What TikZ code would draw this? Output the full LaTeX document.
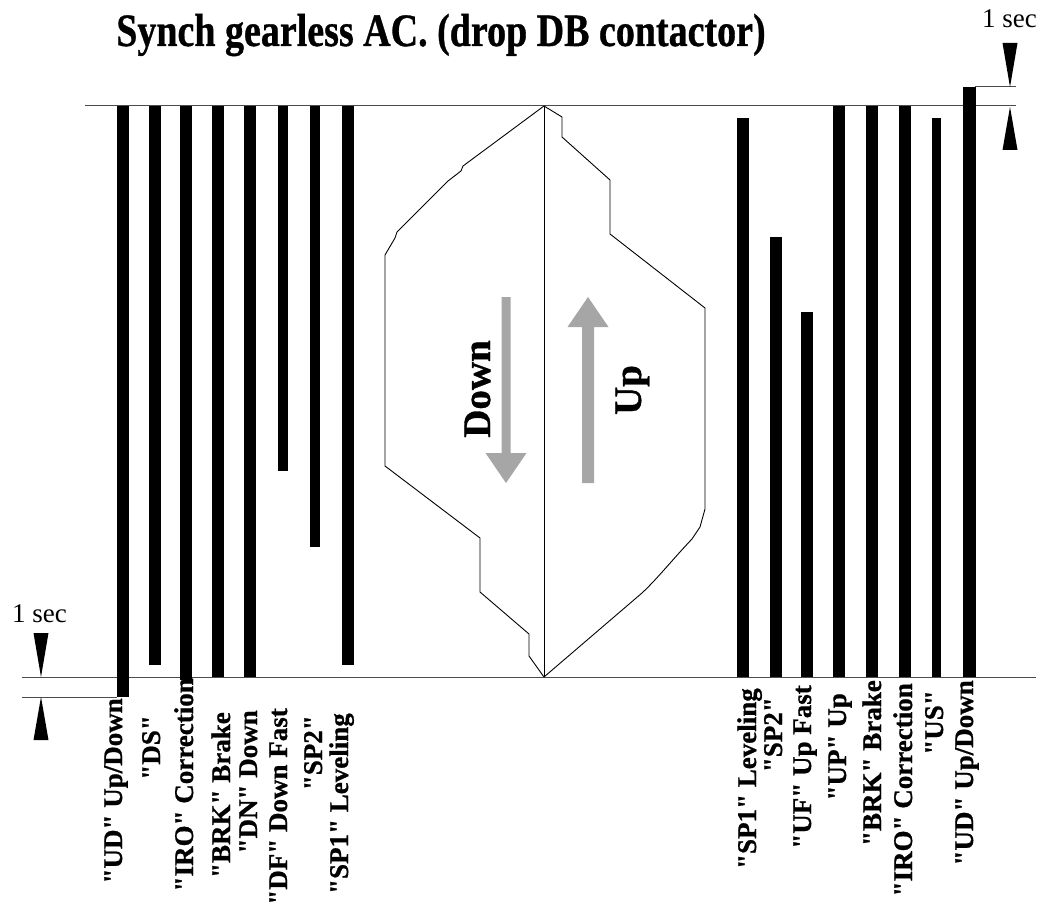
\documentclass[tikz,border=0pt]{standalone}
\usepackage{graphicx}
\usepackage{fontspec}
\setmainfont{Liberation Serif}[Ligatures=TeXOff,BoldFeatures={FakeBold=0.8}]
\begin{document}
\begin{tikzpicture}[x=1pt,y=-1pt,
  lbl/.style={rotate=90,anchor=base east,inner sep=0pt,font=\fontsize{27}{30}\selectfont\bfseries},
  hline/.style={line width=1pt,draw=black!70},
  prof/.style={line width=0.9pt,draw=black,line join=miter},
  bar/.style={fill=black},
  garrow/.style={fill=black!35},
  tri/.style={fill=black},
  sec/.style={inner sep=0pt,font=\fontsize{27}{30}\selectfont}]
\useasboundingbox (0,0) rectangle (1038,904);

% title
\node[inner sep=0pt,anchor=base,font=\fontsize{38}{42}\selectfont\bfseries] (title) at (441,46) {\scalebox{1}[1.22]{Synch gearless AC. (drop DB contactor)}};

% main horizontal lines
\coordinate (tl) at (85,106);
\coordinate (tr) at (1016,106);
\coordinate (bl) at (22,677);
\coordinate (br) at (1036,677);
\draw[hline] (tl) -- (tr);
\draw[hline] (bl) -- (br);
% 1 sec extension lines
\coordinate (ext1a) at (975,87);
\coordinate (ext1b) at (1016,87);
\coordinate (ext2a) at (22,697);
\coordinate (ext2b) at (117,697);
\draw[hline] (ext1a) -- (ext1b);
\draw[hline] (ext2a) -- (ext2b);

% left bars
\fill[bar] (117,106) rectangle (128.5,697);   % UD
\fill[bar] (148.5,106) rectangle (160.5,665); % DS
\fill[bar] (180,106) rectangle (192,680);     % IRO
\fill[bar] (212,106) rectangle (224,677);     % BRK
\fill[bar] (243.5,106) rectangle (256,677);   % DN
\fill[bar] (278,106) rectangle (287.5,471);   % DF
\fill[bar] (310,106) rectangle (319.5,547);   % SP2
\fill[bar] (342,106) rectangle (354,665);     % SP1

% right bars
\fill[bar] (737,118) rectangle (749,677);     % SP1
\fill[bar] (769.5,237) rectangle (782,677);   % SP2
\fill[bar] (801,312) rectangle (813,677);     % UF
\fill[bar] (833,106) rectangle (845,677);     % UP
\fill[bar] (865.5,106) rectangle (877.5,677); % BRK
\fill[bar] (899,106) rectangle (911,677);     % IRO
\fill[bar] (931.5,118) rectangle (940.5,677); % US
\fill[bar] (963,87) rectangle (975.5,677);    % UD

% 1 sec markers
\node[sec,anchor=base west] (sectop) at (982,28) {1 sec};
\fill[tri] (1002.5,43) -- (1017.5,43) -- (1010,87) -- cycle;
\fill[tri] (1010,107) -- (1017.5,150) -- (1002.5,150) -- cycle;
\node[sec,anchor=base west] (secbot) at (12,622) {1 sec};
\fill[tri] (33.5,633) -- (48.5,633) -- (41,677) -- cycle;
\fill[tri] (41,697) -- (48.5,740) -- (33.5,740) -- cycle;

% speed profile
\coordinate (apex) at (544,106);
\coordinate (base) at (544,677);
\draw[line width=0.9pt] (apex) -- (base);
\draw[prof] (apex) -- (463,166) -- (461,171) -- (448,181) -- (397,232) -- (395,238)
  -- (385,255) -- (385,466) -- (480,538) -- (480,592) -- (529,634) -- (529,656) -- (base);
\draw[prof] (apex) -- (562,117) -- (562,137) -- (610,180) -- (610,234) -- (705,308)
  -- (705,509) -- (700,527) -- (692,539) .. controls (672,560) and (658,578) .. (642,593) -- (base);

% gray arrows
\fill[garrow] (501.5,297) -- (510.5,297) -- (510.5,453) -- (526.5,453) -- (506,483)
  -- (485.5,453) -- (501.5,453) -- cycle;
\fill[garrow] (582,483) -- (594,483) -- (594,327) -- (608.5,327) -- (588,297)
  -- (567.5,327) -- (582,327) -- cycle;
\node[rotate=90,inner sep=0pt,anchor=base,font=\fontsize{39}{42}\selectfont\bfseries] (down) at (490,389) {Down};
\node[rotate=90,inner sep=0pt,anchor=base,font=\fontsize{39}{42}\selectfont\bfseries] (up) at (641,390) {Up};

% left labels
\node[lbl] (l1) at (122,698) {"UD" Up/Down};
\node[lbl] (l2) at (160,715) {"DS"};
\node[lbl] (l3) at (193,678) {"IRO" Correction};
\node[lbl] (l4) at (230,712) {"BRK" Brake};
\node[lbl] (l5) at (257,710) {"DN" Down};
\node[lbl] (l6) at (287,708) {"DF" Down Fast};
\node[lbl] (l7) at (322,715) {"SP2"};
\node[lbl] (l8) at (348,713) {"SP1" Leveling};

% right labels
\node[lbl] (r1) at (756,688) {"SP1" Leveling};
\node[lbl] (r2) at (782,697) {"SP2"};
\node[lbl] (r3) at (811,685) {"UF" Up Fast};
\node[lbl] (r4) at (846,693) {"UP" Up};
\node[lbl] (r5) at (881,680) {"BRK" Brake};
\node[lbl] (r6) at (912,683) {"IRO" Correction};
\node[lbl] (r7) at (943,690) {"US"};
\node[lbl] (r8) at (973,680) {"UD" Up/Down};
\end{tikzpicture}
\end{document}
